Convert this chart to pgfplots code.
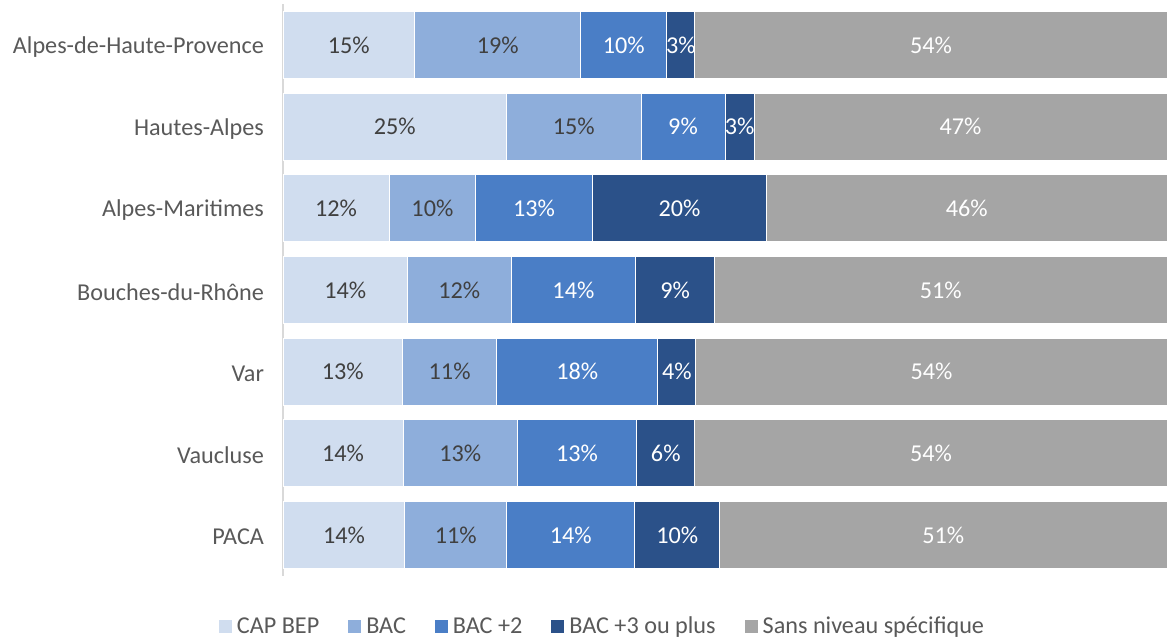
\documentclass[border=0pt]{standalone}
\usepackage{fontspec}
\setmainfont{Carlito}
\usepackage{pgfplots}
\usepackage{pgfplotstable}
\pgfplotsset{compat=1.18}
\definecolor{ccap}{HTML}{D0DDEF}
\definecolor{cbac}{HTML}{8EAEDB}
\definecolor{cbacd}{HTML}{4A7EC6}
\definecolor{cbact}{HTML}{2B5189}
\definecolor{csans}{HTML}{A5A5A5}
\definecolor{ctxt}{HTML}{595959}
\definecolor{clab}{HTML}{404040}
\definecolor{caxis}{HTML}{D9D9D9}
\pgfplotstableread{
y cap bac bacd bact sans lcap lbac lbacd lbact lsans
0 14.9 18.8 9.7 3.2 53.4 15 19 10 3 54
1 25.3 15.2 9.5 3.3 46.7 25 15 9 3 47
2 12.0 9.8 13.2 19.7 45.3 12 10 13 20 46
3 14.1 11.7 14.1 8.9 51.2 14 12 14 9 51
4 13.5 10.7 18.2 4.3 53.3 13 11 18 4 54
5 13.6 12.9 13.5 6.6 53.4 14 13 13 6 54
6 13.8 11.5 14.5 9.6 50.6 14 11 14 10 51
}\data
\begin{document}
\begin{tikzpicture}
\path[use as bounding box] (0,0) rectangle (583.5pt,319.5pt);
\begin{axis}[
  at={(141.5pt,31.5pt)}, anchor=south west,
  scale only axis, width=442pt, height=286pt,
  xbar stacked, bar width=33.5pt,
  xmin=0, xmax=100, ymin=-0.5, ymax=6.5, enlargelimits=false,
  y dir=reverse,
  axis x line=none, axis y line*=left,
  axis line style={caxis, line width=0.75pt},
  xtick=\empty,
  ytick={0,...,6},
  yticklabels={Alpes-de-Haute-Provence,Hautes-Alpes,Alpes-Maritimes,Bouches-du-Rhône,Var,Vaucluse,PACA},
  major tick length=0pt,
  yticklabel style={font=\fontsize{12.1}{14}\selectfont, text=ctxt, xshift=-6pt, yshift=-1pt},
  point meta=explicit symbolic,
  nodes near coords={\pgfplotspointmeta\%},
  every node near coord/.append style={anchor=center, font=\fontsize{12.1}{14}\selectfont},
  seg/.style n args={2}{fill=#1, draw=white, line width=0.5pt,
     every node near coord/.append style={text=#2}},
  legend columns=-1,
  legend style={draw=none, at={(0.362,-0.089)}, anchor=center,
     font=\fontsize{12.1}{14}\selectfont, text=ctxt,
     /tikz/every even column/.append style={column sep=12pt},
     /tikz/every odd column/.append style={column sep=0pt}},
  legend image code/.code={\fill[#1] (0pt,-3.5pt) rectangle (7pt,3.5pt);},
]
\addplot[seg={ccap}{clab}] table[x=cap, y=y, meta=lcap] {\data};
\addplot[seg={cbac}{clab}] table[x=bac, y=y, meta=lbac] {\data};
\addplot[seg={cbacd}{white}] table[x=bacd, y=y, meta=lbacd] {\data};
\addplot[seg={cbact}{white}] table[x=bact, y=y, meta=lbact] {\data};
\addplot[seg={csans}{white}] table[x=sans, y=y, meta=lsans] {\data};
\legend{CAP BEP, BAC, BAC +2, BAC +3 ou plus, Sans niveau spécifique}
\end{axis}
\end{tikzpicture}
\end{document}
